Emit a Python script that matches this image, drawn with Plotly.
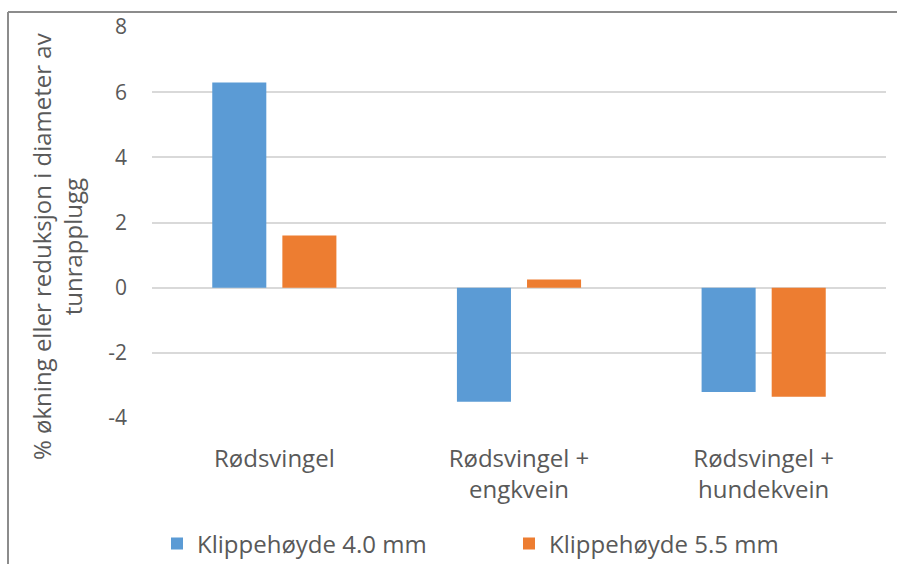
import plotly.graph_objects as go

# Tunrapplugg diameter change per grass mix and mowing height
categories = ["Rødsvingel", "Rødsvingel +<br>engkvein", "Rødsvingel +<br>hundekvein"]
klipp_40 = [6.3, -3.5, -3.2]
klipp_55 = [1.6, 0.25, -3.35]
y_ticks = [-4, -2, 0, 2, 4, 6, 8]
y_tick_text = ["-4", "-2", "0", "2", "4", "6", "8"]

BLUE = "#5B9BD5"
ORANGE = "#ED7D31"
TEXT = "#595959"
GRID = "#D9D9D9"
FONT = "Open Sans, Liberation Sans, sans-serif"

W, H = 897, 564
ML, MR, MT, MB = 152, 11, 27, 146
PW = W - ML - MR
PH = H - MT - MB

fig = go.Figure()
fig.add_trace(go.Bar(x=categories, y=klipp_40, name="Klippehøyde 4.0 mm",
                     marker=dict(color=BLUE, line=dict(width=0))))
fig.add_trace(go.Bar(x=categories, y=klipp_55, name="Klippehøyde 5.5 mm",
                     marker=dict(color=ORANGE, line=dict(width=0))))

def px_x(p):
    return (p - ML) / PW

def px_y(p):
    return (H - MB - p) / PH

fig.update_layout(
    width=W, height=H,
    margin=dict(l=ML, r=MR, t=MT, b=MB, pad=0, autoexpand=False),
    paper_bgcolor="white", plot_bgcolor="white",
    font=dict(family=FONT, size=22, color=TEXT),
    barmode="group", bargap=0.427, bargroupgap=0.229,
    showlegend=True,
    legend=dict(orientation="h", x=px_x(157), xanchor="left",
                y=px_y(544), yanchor="middle",
                entrywidth=307, entrywidthmode="pixels",
                font=dict(family=FONT, size=24, color=TEXT),
                bgcolor="rgba(0,0,0,0)", itemwidth=30),
    xaxis=dict(showgrid=False, showline=False, ticks="", zeroline=False,
               tickfont=dict(family=FONT, size=24, color=TEXT),
               ticklabelstandoff=24),
    yaxis=dict(range=[-4, 8], tickvals=y_ticks, ticktext=y_tick_text,
               showgrid=True, gridcolor=GRID,
               gridwidth=1.5, zeroline=True, zerolinecolor=GRID, zerolinewidth=1.5,
               showline=False, ticks="", ticklabelstandoff=24,
               tickfont=dict(family=FONT, size=21, color=TEXT)),
    annotations=[dict(
        text="% økning eller reduksjon i diameter av<br>tunrapplugg",
        xref="paper", yref="paper", x=px_x(57), y=px_y(247),
        xanchor="center", yanchor="middle", textangle=-90, showarrow=False,
        font=dict(family=FONT, size=24, color=TEXT))],
    shapes=[
        dict(type="line", xref="paper", yref="paper",
             x0=px_x(8), x1=px_x(8), y0=px_y(12), y1=px_y(580),
             line=dict(color="#8C8C8C", width=2)),
        dict(type="line", xref="paper", yref="paper",
             x0=px_x(8), x1=px_x(910), y0=px_y(12), y1=px_y(12),
             line=dict(color="#8C8C8C", width=2)),
    ],
)

fig.write_html("out.html")
